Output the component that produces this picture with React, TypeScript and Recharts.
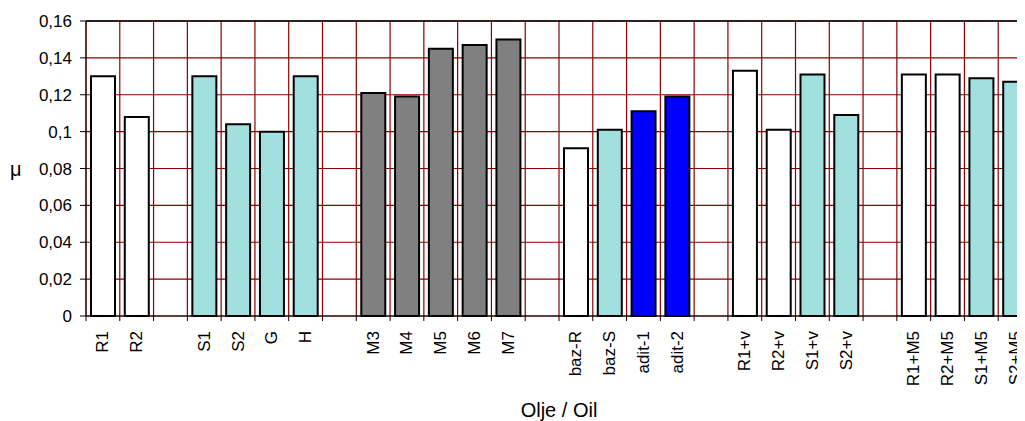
import React from 'react'
import { BarChart, Bar, XAxis, YAxis, CartesianGrid, Cell, ReferenceLine } from 'recharts'

// oils on the x axis, '' marks the empty gap between groups
const oils = [
  'R1', 'R2', '',
  'S1', 'S2', 'G', 'H', '',
  'M3', 'M4', 'M5', 'M6', 'M7', '',
  'baz-R', 'baz-S', 'adit-1', 'adit-2', '',
  'R1+v', 'R2+v', 'S1+v', 'S2+v', '',
  'R1+M5', 'R2+M5', 'S1+M5', 'S2+M5',
]
// friction coefficient
const mu = [
  0.13, 0.108, null,
  0.13, 0.104, 0.1, 0.13, null,
  0.121, 0.119, 0.145, 0.147, 0.15, null,
  0.091, 0.101, 0.111, 0.119, null,
  0.133, 0.101, 0.131, 0.109, null,
  0.131, 0.131, 0.129, 0.127,
]
// r = rapeseed based, s = sunflower based, m = mineral, a = additive
const kind = [
  'r', 'r', '',
  's', 's', 's', 's', '',
  'm', 'm', 'm', 'm', 'm', '',
  'r', 's', 'a', 'a', '',
  'r', 'r', 's', 's', '',
  'r', 'r', 's', 's',
]
const yTicks = [0, 0.02, 0.04, 0.06, 0.08, 0.1, 0.12, 0.14, 0.16]

const fills: Record<string, string> = { r: '#ffffff', s: '#a2dfdf', m: '#808080', a: '#0000ff' }
const gridRed = '#8b0000'

const data = oils.map((name, i) => ({ name, mu: mu[i] }))

const fmt = (v: number) => (v === 0 ? '0' : String(v).replace('.', ','))

// grid lines sit on the category borders, not on the centres
const borderLines = ({ offset }: any) =>
  Array.from({ length: oils.length + 1 }, (_, i) => offset.left + (i * offset.width) / oils.length)

function OilTick({ x, y, payload, index, width }: any) {
  const band = width / oils.length
  const ty = y + 15
  return (
    <g>
      <line x1={x - band / 2} x2={x - band / 2} y1={y} y2={y + 5} stroke="#000" />
      {index === oils.length - 1 && <line x1={x + band / 2} x2={x + band / 2} y1={y} y2={y + 5} stroke="#000" />}
      <text
        x={x}
        y={ty}
        transform={`rotate(-90, ${x}, ${ty})`}
        textAnchor="end"
        dominantBaseline="central"
        fontSize={17}
        fill="#000"
      >
        {payload.value}
      </text>
    </g>
  )
}

export default function App() {
  return (
    <div style={{ width: 1017, height: 413, overflow: 'hidden', fontFamily: '"Liberation Sans", Arial, sans-serif' }}>
      <BarChart width={1030} height={413} data={data} margin={{ top: 13, right: 6, bottom: 0, left: 0 }}>
        <CartesianGrid stroke={gridRed} strokeWidth={1.2} verticalCoordinatesGenerator={borderLines} />
        <XAxis
          dataKey="name"
          type="category"
          interval={0}
          height={105}
          tickSize={0}
          tickMargin={0}
          tickLine={false}
          axisLine={{ stroke: '#000' }}
          tick={<OilTick />}
          label={{ value: 'Olje / Oil', position: 'insideBottom', offset: 4, fontSize: 20, fill: '#000' }}
        />
        <YAxis
          domain={[0, 0.16]}
          ticks={yTicks}
          width={78}
          tickFormatter={fmt}
          tickSize={6}
          tickMargin={8}
          tick={{ fill: '#000', fontSize: 17 }}
          tickLine={{ stroke: '#000' }}
          axisLine={{ stroke: '#000' }}
          label={{ value: 'μ', position: 'insideLeft', offset: 2, fontSize: 20, fill: '#000' }}
        />
        <ReferenceLine y={0.16} stroke="#000" strokeWidth={1.5} />
        <Bar dataKey="mu" barSize={24} stroke="#000" strokeWidth={2} isAnimationActive={false}>
          {data.map((_, i) => (
            <Cell key={i} fill={fills[kind[i]] ?? '#fff'} />
          ))}
        </Bar>
      </BarChart>
    </div>
  )
}
